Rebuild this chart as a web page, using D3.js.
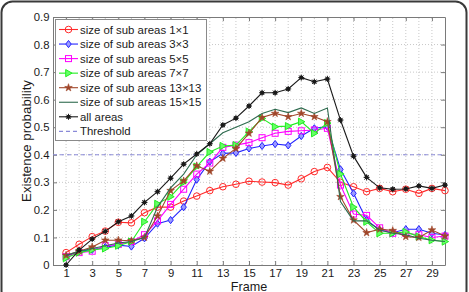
<!DOCTYPE html>
<html>
<head>
<meta charset="utf-8">
<script src="https://cdn.jsdelivr.net/npm/d3@7"></script>
<style>
  body { margin: 0; background: #fff; }
  svg { font-family: "Liberation Sans", Arial, sans-serif; }
</style>
</head>
<body>
<div id="chart"></div>
<script>
// frames 1..30
var frames = d3.range(1, 31);

var red1     = [0.045,0.075,0.103,0.123,0.155,0.153,0.19,0.21,0.21,0.232,0.25,0.27,0.284,0.293,0.304,0.301,0.299,0.29,0.313,0.339,0.354,0.30,0.284,0.266,0.278,0.266,0.275,0.26,0.278,0.27];
var blue3    = [0.03,0.05,0.055,0.065,0.072,0.067,0.097,0.15,0.163,0.21,0.31,0.375,0.405,0.407,0.423,0.432,0.439,0.434,0.468,0.496,0.502,0.347,0.26,0.163,0.127,0.117,0.13,0.13,0.115,0.109];
var magenta5 = [0.03,0.045,0.05,0.07,0.075,0.085,0.11,0.16,0.22,0.275,0.33,0.37,0.427,0.435,0.444,0.462,0.478,0.485,0.487,0.49,0.496,0.29,0.185,0.18,0.135,0.115,0.115,0.11,0.1,0.105];
var green7   = [0.025,0.045,0.055,0.06,0.07,0.085,0.157,0.222,0.248,0.3,0.357,0.41,0.432,0.435,0.484,0.532,0.502,0.504,0.52,0.478,0.515,0.33,0.21,0.157,0.115,0.115,0.12,0.103,0.09,0.085];
var brown13  = [0.035,0.05,0.065,0.09,0.09,0.088,0.1,0.178,0.27,0.305,0.36,0.34,0.387,0.423,0.478,0.535,0.55,0.538,0.55,0.538,0.52,0.248,0.163,0.117,0.13,0.125,0.103,0.1,0.127,0.105];
var dkgreen15= [0.035,0.05,0.06,0.07,0.08,0.085,0.1,0.21,0.28,0.33,0.40,0.44,0.48,0.50,0.52,0.55,0.565,0.553,0.57,0.55,0.57,0.23,0.16,0.16,0.127,0.115,0.11,0.097,0.09,0.085];
var allAreas = [0.0,0.054,0.094,0.122,0.157,0.178,0.227,0.266,0.315,0.366,0.403,0.44,0.508,0.533,0.577,0.625,0.625,0.639,0.68,0.665,0.675,0.526,0.395,0.318,0.28,0.275,0.276,0.287,0.278,0.29];
var threshold = 0.4;

var xTicks = d3.range(1, 30, 2);
var yTicks = [0, 0.1, 0.2, 0.3, 0.4, 0.5, 0.6, 0.7, 0.8, 0.9];

var series = [
  {name: "size of sub areas 1\u00d71",   values: red1,      color: "#ff2a2a", marker: "circle"},
  {name: "size of sub areas 3\u00d73",   values: blue3,     color: "#2424ff", marker: "diamond"},
  {name: "size of sub areas 5\u00d75",   values: magenta5,  color: "#ff00ff", marker: "square"},
  {name: "size of sub areas 7\u00d77",   values: green7,    color: "#22ee22", marker: "triangle"},
  {name: "size of sub areas 13\u00d713", values: brown13,   color: "#a0462a", marker: "star"},
  {name: "size of sub areas 15\u00d715", values: dkgreen15, color: "#2f6b4f", marker: "none"},
  {name: "all areas",                    values: allAreas,  color: "#1a1a1a", marker: "asterisk"}
];

var W = 469, H = 292;
var svg = d3.select("#chart").append("svg")
            .attr("width", W)
            .attr("height", H);

var x = d3.scaleLinear().domain([0, 30]).range([53, 445]);
var y = d3.scaleLinear().domain([0, 0.9]).range([265, 17]);

// outer rounded frame
svg.append("rect")
   .attr("x", 1.5).attr("y", 1.5)
   .attr("width", 465).attr("height", 300)
   .attr("rx", 11)
   .style("fill", "white")
   .style("stroke", "#3a3a3a")
   .style("stroke-width", 2);

// grid
var grid = svg.append("g");
grid.selectAll(".vg").data(d3.range(1, 30)).enter().append("line")
    .attr("x1", function(d) {return x(d)}).attr("x2", function(d) {return x(d)})
    .attr("y1", y(0)).attr("y2", y(0.9))
    .style("stroke", "#c8c8c8").style("stroke-dasharray", "1,2");
grid.selectAll(".hg").data(yTicks.slice(1, -1)).enter().append("line")
    .attr("x1", x(0)).attr("x2", x(30))
    .attr("y1", function(d) {return y(d)}).attr("y2", function(d) {return y(d)})
    .style("stroke", "#c8c8c8").style("stroke-dasharray", "1,2");

// axes (ticks inside, box on)
var axisColor = "#7a7a7a";
var axBottom = svg.append("g").attr("transform", "translate(0," + y(0) + ")")
    .call(d3.axisBottom(x).tickValues(xTicks).tickSizeInner(-4).tickSizeOuter(0).tickPadding(3.5).tickFormat(d3.format("d")));
var axTop = svg.append("g").attr("transform", "translate(0," + y(0.9) + ")")
    .call(d3.axisTop(x).tickValues(xTicks).tickSizeInner(-4).tickSizeOuter(0).tickFormat(""));
var axLeft = svg.append("g").attr("transform", "translate(" + x(0) + ",0)")
    .call(d3.axisLeft(y).tickValues(yTicks).tickSizeInner(-4).tickSizeOuter(0).tickPadding(3.5).tickFormat(function(d) {return d === 0 ? "0" : d3.format(".1f")(d)}));
var axRight = svg.append("g").attr("transform", "translate(" + x(30) + ",0)")
    .call(d3.axisRight(y).tickValues(yTicks).tickSizeInner(-4).tickSizeOuter(0).tickFormat(""));

[axBottom, axTop, axLeft, axRight].forEach(function(a) {
  a.selectAll("path, line").style("stroke", axisColor);
  a.selectAll("text").style("fill", "#1a1a1a").style("font-size", "11.3px")
   .style("font-family", "'Liberation Sans', Arial, sans-serif");
});

// threshold
svg.append("line")
   .attr("x1", x(0)).attr("x2", x(30))
   .attr("y1", y(threshold)).attr("y2", y(threshold))
   .style("stroke", "#8a8ad8").style("stroke-width", 1)
   .style("stroke-dasharray", "4,3");

// markers
function drawMarker(g, type, color, cx, cy) {
  if (type === "circle") {
    g.append("circle").attr("cx", cx).attr("cy", cy).attr("r", 3.3)
     .style("fill", "none").style("stroke", color).style("stroke-width", 1);
  } else if (type === "diamond") {
    g.append("path").attr("d", "M" + cx + "," + (cy - 3.6) + "L" + (cx + 2.7) + "," + cy + "L" + cx + "," + (cy + 3.6) + "L" + (cx - 2.7) + "," + cy + "Z")
     .style("fill", "#9a9aff").style("stroke", color).style("stroke-width", 1);
  } else if (type === "square") {
    g.append("rect").attr("x", cx - 3).attr("y", cy - 3).attr("width", 6).attr("height", 6)
     .style("fill", "none").style("stroke", color).style("stroke-width", 1);
  } else if (type === "triangle") {
    g.append("path").attr("d", "M" + (cx + 3.6) + "," + cy + "L" + (cx - 2.8) + "," + (cy - 3.6) + "L" + (cx - 2.8) + "," + (cy + 3.6) + "Z")
     .style("fill", "#66ff66").style("stroke", color).style("stroke-width", 1);
  } else if (type === "star") {
    g.append("path").attr("transform", "translate(" + cx + "," + cy + ")")
     .attr("d", d3.symbol().type(d3.symbolStar).size(18)())
     .style("fill", color).style("stroke", color).style("stroke-width", 0.6);
  } else if (type === "asterisk") {
    g.append("circle").attr("cx", cx).attr("cy", cy).attr("r", 2.1).style("fill", color);
    g.append("path").attr("d", "M" + (cx - 3) + "," + cy + "h6M" + cx + "," + (cy - 3) + "v6M" +
        (cx - 2.2) + "," + (cy - 2.2) + "l4.4,4.4M" + (cx - 2.2) + "," + (cy + 2.2) + "l4.4,-4.4")
     .style("stroke", color).style("stroke-width", 1);
  }
}

var line = d3.line()
  .x(function(d, i) {return x(frames[i])})
  .y(function(d) {return y(d)});

series.forEach(function(s) {
  var g = svg.append("g");
  g.append("path").datum(s.values)
   .attr("d", line)
   .style("fill", "none").style("stroke", s.color).style("stroke-width", 1.1);
  s.values.forEach(function(v, i) {
    drawMarker(g, s.marker, s.color, x(frames[i]), y(v));
  });
});

// axis titles
svg.append("text")
   .attr("x", (x(0) + x(30)) / 2).attr("y", 290.5)
   .attr("text-anchor", "middle")
   .style("font-size", "12.6px").style("fill", "#1a1a1a")
   .text("Frame");
svg.append("text")
   .attr("transform", "translate(31," + ((y(0) + y(0.9)) / 2) + ") rotate(-90)")
   .attr("text-anchor", "middle")
   .style("font-size", "13.3px").style("fill", "#1a1a1a")
   .text("Existence probability");

// legend
var legend = svg.append("g");
legend.append("rect")
   .attr("x", 55.5).attr("y", 19.5).attr("width", 151).attr("height", 121)
   .style("fill", "white").style("stroke", "#8a8a8a").style("stroke-width", 1);

var legendItems = series.map(function(s) {return {name: s.name, color: s.color, marker: s.marker}});
legendItems.push({name: "Threshold", color: "#8a8ad8", marker: "dash"});

legendItems.forEach(function(d, i) {
  var ly = 29.5 + i * 14.55;
  var g = legend.append("g");
  g.append("line")
   .attr("x1", 59).attr("x2", 78).attr("y1", ly).attr("y2", ly)
   .style("stroke", d.color).style("stroke-width", 1.1)
   .style("stroke-dasharray", d.marker === "dash" ? "4,3" : null);
  if (d.marker !== "dash") drawMarker(g, d.marker, d.color, 68.5, ly);
  g.append("text")
   .attr("x", 80).attr("y", ly + 4)
   .style("font-size", "11.4px").style("fill", "#1a1a1a")
   .text(d.name);
});
</script>
</body>
</html>
